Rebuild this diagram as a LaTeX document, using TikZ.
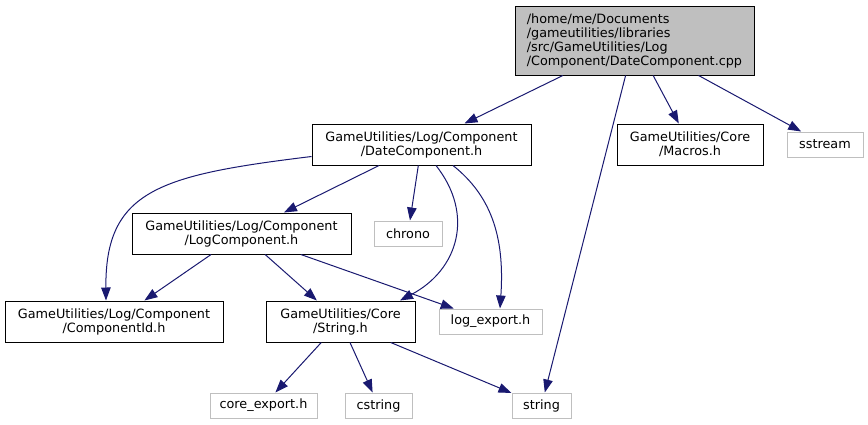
\documentclass[tikz,border=0pt]{standalone}
\usepackage{fontspec}
\setmainfont{DejaVu Sans}
\usetikzlibrary{arrows.meta}
\definecolor{edgeblue}{HTML}{191970}
\definecolor{extgray}{HTML}{BFBFBF}

\begin{document}
\begin{tikzpicture}[
        x=1pt, y=-1pt,
        file/.style={rectangle, draw=black, fill=white, line width=1pt, inner sep=0pt, minimum height=41pt, align=center, font=\fontsize{12.8}{14}\selectfont},
        ext/.style={file, draw=extgray, minimum height=25pt},
        arrow/.style={-{Triangle[length=13pt, width=9.5pt]}, edgeblue, line width=1pt}
    ]
        \useasboundingbox (0,0) rectangle (868,424);

        \node[file, fill=extgray, align=left, minimum width=239pt, minimum height=69pt] (root) at (634.5,40.5) {/home/me/Documents\\/gameutilities/libraries\\/src/GameUtilities/Log\\/Component/DateComponent.cpp};
        \node[file, minimum width=219pt] (date) at (421.5,144.5) {GameUtilities/Log/Component\\/DateComponent.h};
        \node[file, minimum width=146pt] (macros) at (690,144.5) {GameUtilities/Core\\/Macros.h};
        \node[ext, minimum width=76pt] (sstream) at (825,144.5) {sstream};
        \node[file, minimum width=219pt] (logc) at (241.5,233.5) {GameUtilities/Log/Component\\/LogComponent.h};
        \node[ext, minimum width=68pt] (chrono) at (408,233.5) {chrono};
        \node[file, minimum width=218pt] (compid) at (114,321.5) {GameUtilities/Log/Component\\/ComponentId.h};
        \node[file, minimum width=149pt] (strh) at (340.5,321.5) {GameUtilities/Core\\/String.h};
        \node[ext, minimum width=103pt] (logexp) at (490.5,321.5) {log\_export.h};
        \node[ext, minimum width=107pt] (coreexp) at (263.5,405.5) {core\_export.h};
        \node[ext, minimum width=67pt] (cstring) at (378.5,405.5) {cstring};
        \node[ext, minimum width=59pt] (string) at (541.5,405.5) {string};

        \draw[arrow] (root) -- (date);
        \draw[arrow] (root) -- (string);
        \draw[arrow] (root) -- (macros);
        \draw[arrow] (root) -- (sstream);
        \draw[arrow] ([yshift=-12pt]date.west) .. controls (160,175) and (105,190) .. ([xshift=-8pt]compid.north);
        \draw[arrow] (date) -- (logc);
        \draw[arrow] (date) -- (chrono);
        \draw[arrow] ([xshift=14.5pt]date.south) .. controls (475,215) and (458,270) .. ([xshift=59.5pt]strh.north);
        \draw[arrow] ([xshift=31.5pt]date.south) .. controls (490,195) and (505,235) .. ([xshift=9.5pt]logexp.north);
        \draw[arrow] (logc) -- (compid);
        \draw[arrow] (logc) -- (strh);
        \draw[arrow] (logc) -- (logexp);
        \draw[arrow] (strh) -- (coreexp);
        \draw[arrow] (strh) -- (cstring);
        \draw[arrow] (strh) -- (string);
    \end{tikzpicture}
\end{document}
